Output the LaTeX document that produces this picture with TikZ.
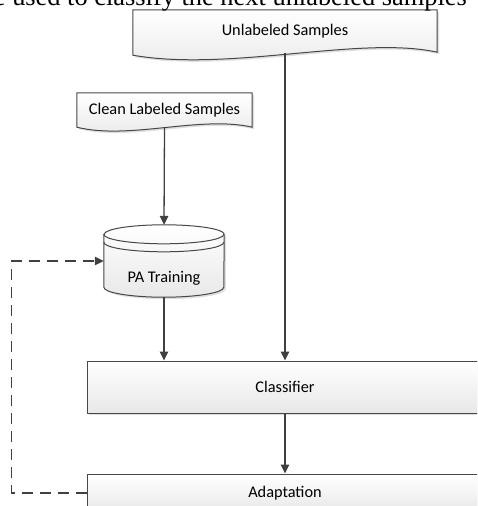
\documentclass[tikz,border=0pt]{standalone}
\usepackage{fontspec}
\setmainfont{Carlito}
\newfontfamily\bodyfont{Liberation Serif}
\usetikzlibrary{arrows.meta,shadows,backgrounds}

\newcommand{\boxLineWidth}{1pt}
\newcommand{\arrowLineWidth}{1.3pt}
\newcommand{\wideBoxX}{285}
\newcommand{\wideBoxWidth}{396pt}
\newcommand{\cylRadiusX}{60pt}
\newcommand{\cylTopRadiusY}{9.5pt}
\newcommand{\cylBottomRadiusY}{10pt}

\tikzset{
  shape line/.style={draw=black!72, line width=\boxLineWidth},
  shape fill/.style={top color=white, bottom color=black!9},
  soft shadow/.style={drop shadow={shadow xshift=2pt, shadow yshift=-2pt, opacity=0.25}},
  label text/.style={font=\fontsize{16.3}{19}\selectfont, text=black},
  wide box/.style={shape line, shape fill, soft shadow, label text, minimum width=\wideBoxWidth, inner sep=0pt},
  flow/.style={draw=black!75, line width=\arrowLineWidth, -{Triangle[length=9pt,width=8.5pt]}},
  feedback/.style={flow, dash pattern=on 11pt off 7pt},
}

\begin{document}
\begin{tikzpicture}[x=1pt, y=-1pt]
        \useasboundingbox (0,0) rectangle (477,506);
        \clip (0,0) rectangle (477,506);

        % Cropped line of the surrounding text
        \node[anchor=base east, inner sep=0pt, font=\bodyfont\fontsize{26.4}{30}\selectfont] (textline) at (467,5.5) {be used to classify the next unlabeled samples};

        % Documents
        \node[label text, minimum width=304pt, minimum height=43pt, inner sep=0pt] (unlabeled) at (\wideBoxX,31.5) {Unlabeled Samples};
        \node[label text, minimum width=175pt, minimum height=35pt, inner sep=0pt] (clean) at (164.5,110.5) {Clean Labeled Samples};

        % Training store
        \node[minimum width=120pt, minimum height=72pt, inner sep=0pt,
              label={[label text, name=patext, yshift=-17pt]center:PA Training}] (pa) at (164,261) {};

        % Classifier and adaptation
        \node[wide box, minimum height=52pt] (classifier) at (\wideBoxX,387) {Classifier};
        \node[wide box, minimum height=38pt] (adaptation) at (\wideBoxX,493) {Adaptation};

        % Outlines behind the texts
        \begin{scope}[on background layer]
        \path[shape line, shape fill, soft shadow] (unlabeled.north west) -- (unlabeled.north east) -- ([yshift=1pt]unlabeled.south east)
              .. controls +(-77,-17) and +(97,17) .. ([yshift=-2pt]unlabeled.south west) -- cycle;
        \path[shape line, shape fill, soft shadow] (clean.north west) -- (clean.north east) -- ([yshift=1pt]clean.south east)
              .. controls +(-52,-12) and +(53,13) .. ([yshift=1pt]clean.south west) -- cycle;
        \path[shape line, shape fill, soft shadow] ([yshift=-\cylTopRadiusY]pa.north west) -- ([yshift=\cylBottomRadiusY]pa.south west)
              arc[start angle=180, end angle=360, x radius=\cylRadiusX, y radius=\cylBottomRadiusY]
              -- ([yshift=-\cylTopRadiusY]pa.north east)
              arc[start angle=0, end angle=180, x radius=\cylRadiusX, y radius=\cylTopRadiusY] -- cycle;
        \draw[shape line] ([yshift=-\cylTopRadiusY]pa.north west) arc[start angle=180, end angle=360, x radius=\cylRadiusX, y radius=\cylTopRadiusY];
        \draw[shape line] ([yshift=-17.5pt]pa.north west) arc[start angle=180, end angle=360, x radius=\cylRadiusX, y radius=\cylTopRadiusY];
        \end{scope}

        % Flow
        \draw[flow] (unlabeled.south) -- (unlabeled.south |- classifier.north);
        \draw[flow] (clean.south) -- (pa.north);
        \draw[flow] (pa.south) -- (pa.south |- classifier.north);
        \draw[flow] (classifier.south) -- (adaptation.north);

        % Feedback
        \draw[feedback] (adaptation.west) -- ++(-75,0) |- (pa.west);
\end{tikzpicture}
\end{document}
